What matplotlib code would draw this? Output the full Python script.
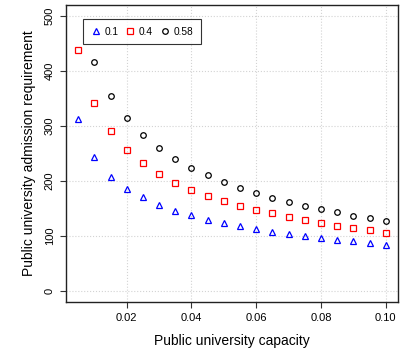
import matplotlib
matplotlib.use('Agg')
import matplotlib.pyplot as plt
import numpy as np

plt.rcParams['font.family'] = ['Liberation Sans', 'DejaVu Sans']

capacity = [0.005, 0.01, 0.015, 0.02, 0.025, 0.03, 0.035, 0.04, 0.045, 0.05,
            0.055, 0.06, 0.065, 0.07, 0.075, 0.08, 0.085, 0.09, 0.095, 0.10]
req_01 = [312, 244, 208, 186, 170, 157, 146, 138, 129, 124,
          118, 113, 108, 104, 100, 96, 93, 90, 87, 84]
req_04 = [438, 342, 291, 257, 232, 213, 197, 184, 173, 163,
          155, 147, 141, 134, 129, 124, 119, 114, 110, 106]
req_058 = [527, 416, 355, 314, 283, 260, 240, 224, 210, 198,
           187, 178, 169, 162, 155, 149, 143, 137, 132, 127]

fig = plt.figure(figsize=(4.12, 3.53), dpi=100)
ax = fig.add_axes([0.160, 0.1445, 0.806, 0.8415])

ax.plot(capacity, req_01, ls='none', marker='^', ms=4.4, mfc='none', mec='blue', mew=0.9, label='0.1')
ax.plot(capacity, req_04, ls='none', marker='s', ms=3.7, mfc='none', mec='red', mew=0.9, label='0.4')
ax.plot(capacity, req_058, ls='none', marker='o', ms=4.0, mfc='none', mec='black', mew=0.9, label='0.58')

ax.set_xlim(0.0012, 0.1038)
ax.set_ylim(-20, 520)
ax.set_xticks([0.02, 0.04, 0.06, 0.08, 0.10])
ax.set_xticklabels(['0.02', '0.04', '0.06', '0.08', '0.10'])
ax.set_yticks([0, 100, 200, 300, 400, 500])
ax.grid(True, color='#d3d3d3', ls=':', lw=0.8)
ax.set_axisbelow(True)

ax.tick_params(axis='both', labelsize=8, length=4.5, width=0.8, color='#333333')
for lbl in ax.get_yticklabels():
    lbl.set_rotation(90)
    lbl.set_va('center')
for s in ax.spines.values():
    s.set_linewidth(1.0)
    s.set_color('#222222')

ax.set_xlabel('Public university capacity', fontsize=10, labelpad=8)
ax.set_ylabel('Public university admission requirement', fontsize=10, labelpad=6)

leg = ax.legend(loc='upper left', ncol=3, fontsize=7.3, frameon=True, fancybox=False,
                edgecolor='black', handletextpad=0.35, columnspacing=0.7,
                handlelength=1.0, borderpad=0.75, borderaxespad=0,
                bbox_to_anchor=(0.051, 0.953))
leg.get_frame().set_linewidth(0.8)

fig.savefig('out.png', dpi=100)
